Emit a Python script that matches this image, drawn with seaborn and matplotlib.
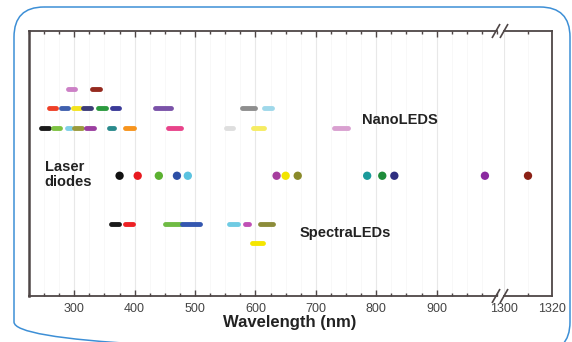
import matplotlib
matplotlib.use("Agg")

import matplotlib.pyplot as plt
from matplotlib.patches import FancyBboxPatch
from matplotlib.ticker import MultipleLocator, FixedLocator
import seaborn as sns

import pandas as pd

W, H = 572, 342

# NanoLEDs: row level, visible start / end wavelength (nm)
nano_row = [3, 3,
            4, 4, 4, 4, 4, 4, 4, 4, 4,
            5, 5, 5, 5, 5, 5, 5, 5, 5, 5, 5]
nano_start = [289, 330,
              258, 278, 298, 315, 340, 362, 434, 578, 614,
              245, 264, 288, 300, 319, 357, 384, 456, 551, 596, 730]
nano_end = [301, 342,
            269, 289, 309, 327, 352, 374, 460, 600, 627,
            258, 277, 294, 312, 333, 365, 399, 476, 563, 614, 754]
nano_colors = ["#cc80c6", "#952a1f",
               "#ee4027", "#4060ae", "#f4e41e", "#3d3c78", "#2b9a3e", "#3a3a98",
               "#7a52a8", "#8e8e8e", "#9fd8ea",
               "#1a1a1a", "#7dc242", "#80cfe8", "#9a9a3c", "#9b3fa0", "#2a8a8c",
               "#f7941d", "#e8438a", "#dedede", "#f6ec62", "#d9a0d0"]

# SpectraLEDs
spectra_row = [10, 10, 10, 10, 10, 10, 10, 11]
spectra_start = [361, 384, 450, 479, 556, 582, 607, 594]
spectra_end = [374, 397, 476, 509, 571, 589, 629, 612]
spectra_colors = ["#1a1a1a", "#ed2024", "#6fbb44", "#3457b0", "#6fcbe3",
                  "#c050b5", "#8c8c3a", "#f5e600"]

# Laser diodes (nm)
laser_row = 7.5
laser_nm = [375, 405, 440, 470, 488, 635, 650, 670, 785, 810, 830, 980, 1310]
laser_colors = ["#111111", "#e8191f", "#5bb130", "#2d4fa6", "#5bc3e0",
                "#a63d9e", "#f2e400", "#8a8a2a", "#1a9a9a", "#1e8c3a",
                "#2e2e80", "#8b2aa0", "#8b2015"]

ticks_main = [300, 400, 500, 600, 700, 800, 900]
ticks_far = [1300, 1320]

sns.set_theme(style="white")
plt.rcParams["font.family"] = ["Liberation Sans", "DejaVu Sans"]

SPINE = "#4e4646"
fig = plt.figure(figsize=(W / 100, H / 100), dpi=100)


def frac(x0, y0, x1, y1):
    return [x0 / W, 1 - y1 / H, (x1 - x0) / W, (y1 - y0) / H]


ax = fig.add_axes(frac(29, 31, 497, 296))
ax_r = fig.add_axes(frac(504, 31, 552, 296))


def segments(starts, ends, rows, colors, prefix):
    ids = [f"{prefix}{i}" for i in range(len(starts))]
    df = pd.DataFrame({"seg": ids * 2, "nm": starts + ends, "row": rows * 2})
    return df, dict(zip(ids, colors))


for starts, ends, rows, colors, prefix in [
    (nano_start, nano_end, nano_row, nano_colors, "n"),
    (spectra_start, spectra_end, spectra_row, spectra_colors, "s"),
]:
    df, pal = segments(starts, ends, rows, colors, prefix)
    sns.lineplot(data=df, x="nm", y="row", hue="seg", palette=pal, estimator=None,
                 sort=False, legend=False, lw=3.5, solid_capstyle="round", ax=ax, zorder=3)

lasers = pd.DataFrame({"nm": laser_nm, "row": laser_row,
                       "id": [str(v) for v in laser_nm]})
laser_pal = dict(zip(lasers["id"], laser_colors))
for a, sub in [(ax, lasers[lasers["nm"] <= 1000]), (ax_r, lasers[lasers["nm"] > 1000])]:
    sns.scatterplot(data=sub, x="nm", y="row", hue="id", palette=laser_pal, s=36,
                    edgecolor="none", legend=False, ax=a, zorder=3)

for a, lim, major, minor in [(ax, (225, 1000), ticks_main, 25), (ax_r, (1300, 1320), ticks_far, 10)]:
    a.set_xlim(*lim)
    a.set_ylim(13.73, 0)
    a.set_yticks([])
    a.xaxis.set_major_locator(FixedLocator(major))
    a.xaxis.set_minor_locator(MultipleLocator(minor))
    a.set_xlabel("")
    a.set_ylabel("")
    a.grid(True, which="major", axis="x", color="#e8e8e8", lw=0.8, zorder=0)
    a.grid(True, which="minor", axis="x", color="#f7f7f7", lw=0.6, zorder=0)
    a.tick_params(axis="x", which="both", direction="in", top=True, bottom=True,
                  color=SPINE, width=1, labelsize=9, labelcolor="#444444", pad=5)
    a.tick_params(axis="x", which="major", length=4.5)
    a.tick_params(axis="x", which="minor", length=2.5)
    for sp in a.spines.values():
        sp.set_color(SPINE)
        sp.set_linewidth(1.3)

ax.spines["left"].set_linewidth(1.8)
ax.spines["right"].set_visible(False)
ax_r.spines["left"].set_visible(False)
ax_r.tick_params(axis="x", which="major", length=0)

txt = dict(fontsize=10.5, fontweight="bold", color="#222222", va="center", ha="left")
ax.text(776, 4.63, "NanoLEDS", **txt)
ax.text(673, 10.48, "SpectraLEDs", **txt)
ax.text(251, 7.43, "Laser\ndiodes", linespacing=1.15, **txt)

fig.text(290 / W, 1 - 323 / H, "Wavelength (nm)", fontsize=12, fontweight="bold",
         color="#222222", ha="center", va="center")

# decoration overlay: rounded frame and axis break marks
deco = fig.add_axes([0, 0, 1, 1], zorder=10)
deco.set_xlim(0, W)
deco.set_ylim(H, 0)
deco.axis("off")
deco.patch.set_alpha(0)
deco.add_patch(FancyBboxPatch((14, 7), 556, 345, boxstyle="round,pad=0,rounding_size=30",
                              fill=False, ec="#3d8fd6", lw=1.1))
for yb in (31, 296):
    for xb in (496, 504):
        deco.plot([xb - 4, xb + 4], [yb + 7, yb - 7], color=SPINE, lw=1.2,
                  solid_capstyle="butt")

fig.savefig("out.png", dpi=100, facecolor="white")
